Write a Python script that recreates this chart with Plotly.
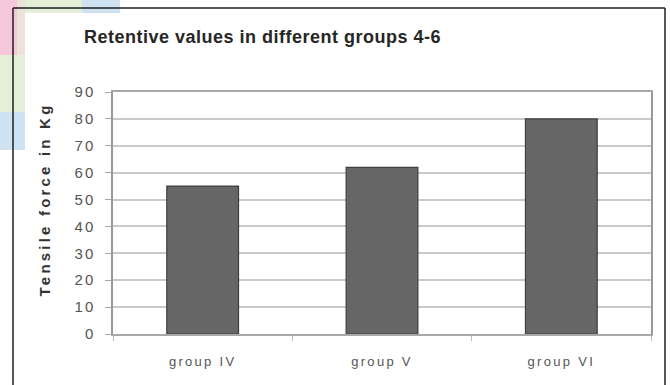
import plotly.graph_objects as go

# Retentive tensile force per group (Kg)
groups = ["group IV", "group V", "group VI"]
tensile_kg = [55, 62, 80]
y_ticks = [0, 10, 20, 30, 40, 50, 60, 70, 80, 90]

W, H = 670, 385
L, R, T, B = 113, 19, 92, 51
PW, PH = W - L - R, H - T - B

TITLE_SPACING = 0.5
TITLE_CHARS = 40


def px(x):
    return (x - L) / PW


def py(y):
    return (H - B - y) / PH


fig = go.Figure(
    go.Bar(
        x=groups,
        y=tensile_kg,
        marker=dict(color="#666666", line=dict(color="#3f3f3f", width=1.2)),
        width=0.4,
    )
)

shapes = []
# coloured corner blocks behind the frame
blocks = [
    (0, 0, 17, 55, "#f6c7da"),
    (17, 0, 25, 55, "#ebe2da"),
    (25, 0, 82, 13, "#e4efd8"),
    (82, 0, 120, 13, "#cfe2f2"),
    (0, 55, 25, 112, "#e4efd8"),
    (0, 112, 25, 150, "#cfe2f2"),
]
for x0, y0, x1, y1, c in blocks:
    shapes.append(dict(type="rect", xref="paper", yref="paper",
                       x0=px(x0), x1=px(x1), y0=py(y1), y1=py(y0),
                       fillcolor=c, line=dict(width=0), layer="below"))
# dark frame around the figure
for x0, y0, x1, y1 in [(13, 8, 13, 385), (13, 8, 665, 8), (665, 8, 665, 385)]:
    shapes.append(dict(type="line", xref="paper", yref="paper",
                       x0=px(x0), x1=px(x1), y0=py(y0), y1=py(y1),
                       line=dict(color="#1e1e1e", width=1.5)))

# the letter-spaced title grows evenly around its centre, so offset its anchor
title_left = 82 + TITLE_SPACING * TITLE_CHARS / 2

annotations = [
    dict(text="<b>Retentive values in different groups 4-6</b>",
         xref="paper", yref="paper", x=px(title_left), y=py(37),
         xanchor="left", yanchor="middle", showarrow=False,
         font=dict(family="Liberation Sans, Arial", size=18, color="#262626")),
    dict(text="<b>Tensile force in Kg</b>",
         xref="paper", yref="paper", x=px(44), y=py(200),
         xanchor="center", yanchor="middle", textangle=-90, showarrow=False,
         font=dict(family="Liberation Sans, Arial", size=15, color="#333333")),
]

fig.update_layout(
    width=W, height=H,
    margin=dict(l=L, r=R, t=T, b=B),
    paper_bgcolor="white", plot_bgcolor="white",
    showlegend=False,
    bargap=0.6,
    shapes=shapes,
    annotations=annotations,
    font=dict(family="Liberation Sans, Arial", color="#555555"),
)
fig.update_xaxes(
    type="category", range=[-0.5, 2.5],
    showline=True, linecolor="#a8a8a8", linewidth=1.5, mirror=True,
    ticks="outside", tickson="boundaries", ticklen=5, tickcolor="#bbbbbb",
    tickfont=dict(size=13, color="#555555"), ticklabelstandoff=15,
    showgrid=False,
)
fig.update_yaxes(
    range=[0, 90], tickvals=y_ticks,
    showline=True, linecolor="#999999", linewidth=1.5, mirror=True,
    ticks="outside", ticklen=6, tickcolor="#aaaaaa",
    tickfont=dict(size=15, color="#555555"), ticklabelstandoff=7,
    showgrid=True, gridcolor="#c9c9c9", gridwidth=1.5,
    zeroline=False,
)

spacing_js = """
var gd = document.getElementById('{plot_id}');
function spread() {
  var ann = gd.querySelectorAll('.annotation-text');
  if (ann.length > 0) ann[0].setAttribute('letter-spacing', '%spx');
  if (ann.length > 1) ann[1].setAttribute('letter-spacing', '3.2px');
  gd.querySelectorAll('.xtick text').forEach(function (t) { t.setAttribute('letter-spacing', '2.3px'); });
  gd.querySelectorAll('.ytick text').forEach(function (t) { t.setAttribute('letter-spacing', '2px'); });
}
spread();
gd.on('plotly_afterplot', spread);
""" % TITLE_SPACING

fig.write_html("out.html", post_script=spacing_js)
